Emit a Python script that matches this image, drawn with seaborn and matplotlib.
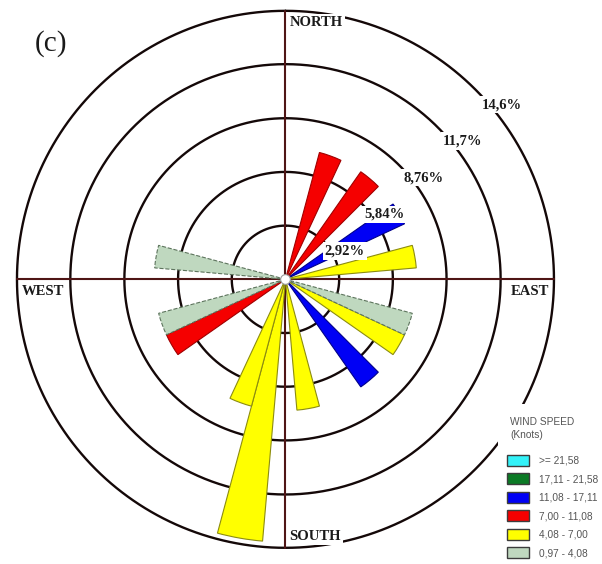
import numpy as np
import pandas as pd
import matplotlib
matplotlib.use("Agg")
import matplotlib.pyplot as plt
from matplotlib.patches import Patch, Rectangle
from matplotlib.transforms import offset_copy
import seaborn as sns

# Wind rose: direction sectors (degrees from north), frequency (%) and speed class
directions = [20, 40, 60, 80, 110, 120, 140, 170, 190, 200, 240, 250, 280]
frequency = [7.14, 7.14, 7.14, 7.14, 7.14, 7.14, 7.14, 7.14, 14.29, 7.14, 7.14, 7.14, 7.14]
speed_class = ["7,00 - 11,08", "7,00 - 11,08", "11,08 - 17,11", "4,08 - 7,00",
               "0,97 - 4,08", "4,08 - 7,00", "11,08 - 17,11", "4,08 - 7,00",
               "4,08 - 7,00", "4,08 - 7,00", "7,00 - 11,08", "0,97 - 4,08",
               "0,97 - 4,08"]

# Speed classes as listed in the legend (knots)
class_labels = [">= 21,58", "17,11 - 21,58", "11,08 - 17,11",
                "7,00 - 11,08", "4,08 - 7,00", "0,97 - 4,08"]
class_colors = ["#33f2f8", "#0b7a25", "#0000f5", "#f50000", "#ffff00", "#bfd8bf"]
class_edges = ["#3a3a3a", "#2a3a2a", "#00008a", "#a00000", "#8c8c10", "#5d745d"]

# Ring levels (%) and their labels
ring_levels = [2.92, 5.84, 8.76, 11.7, 14.6]
ring_labels = ["2,92%", "5,84%", "8,76%", "11,7%", "14,6%"]

df = pd.DataFrame({"direction": directions, "frequency": frequency, "speed": speed_class})

sns.set_theme(style="white")

W, H = 602, 564
fig = plt.figure(figsize=(W / 100, H / 100), dpi=100)
fig.patch.set_facecolor("white")
ax = fig.add_axes([0.0282, 0.0287, 0.892, 0.9521], projection="polar")
ax.set_theta_zero_location("N")
ax.set_theta_direction(-1)
ax.set_ylim(0, ring_levels[-1])
ax.set_facecolor("none")
ax.grid(False)
ax.set_xticks([])
ax.set_yticks([])
ax.spines["polar"].set_visible(False)

# concentric rings
theta_full = np.linspace(0, 2 * np.pi, 721)
for lev in ring_levels:
    ax.plot(theta_full, np.full_like(theta_full, lev), color="#140808", lw=1.7,
            zorder=1, clip_on=False)

# north-south / east-west axes
for ang in [0, 90, 180, 270]:
    ax.plot([np.deg2rad(ang)] * 2, [0, ring_levels[-1]], color="#4f1515", lw=1.5,
            zorder=2, clip_on=False)

# petals, one colour per speed class
width = np.deg2rad(10)
for lab, col, edge in zip(class_labels, class_colors, class_edges):
    sub = df[df["speed"] == lab]
    if sub.empty:
        continue
    ls = "--" if lab == "0,97 - 4,08" else "-"
    ax.bar(np.deg2rad(sub["direction"].to_numpy()), sub["frequency"].to_numpy(),
           width=width, bottom=0, color=col, edgecolor=edge, linewidth=0.8,
           linestyle=ls, zorder=3)

# hub
ax.plot([0], [0], "o", ms=7, mfc="white", mec="#9a9a9a", mew=0.8, zorder=6)

serif_bold = dict(family="Liberation Serif", weight="bold", color="#1a1a1a")
white_box = dict(boxstyle="square,pad=0.15", fc="white", ec="none")

# ring labels along the north-east diagonal
for lev, txt in zip(ring_levels, ring_labels):
    tr = offset_copy(ax.transData, fig=fig, x=0, y=-6, units="points")
    ax.text(np.deg2rad(47), lev, txt, transform=tr, ha="left", va="center",
            fontsize=10.5, bbox=white_box, zorder=7, **serif_bold)

# cardinal labels
rmax = ring_levels[-1]
card = [("NORTH", 0, 3, -8.6, "left"), ("SOUTH", 180, 3, 8.0, "left"),
        ("WEST", 270, 3.6, -8.6, "left"), ("EAST", 90, -3.6, -8.6, "right")]
for txt, ang, dx, dy, ha in card:
    tr = offset_copy(ax.transData, fig=fig, x=dx, y=dy, units="points")
    ax.text(np.deg2rad(ang), rmax, txt, transform=tr, ha=ha, va="center",
            fontsize=10.5, bbox=white_box, zorder=7, **serif_bold)

fig.text(35 / W, 1 - 44 / H, "(c)", family="Liberation Serif", fontsize=21,
         color="#1a1a1a", ha="left", va="center")

# white panel holding the speed legend
fig.patches.append(Rectangle((498 / W, 0), 1 - 498 / W, 1 - 404 / H,
                             transform=fig.transFigure, fc="white", ec="none",
                             zorder=1))

legend_grey = "#555555"
fig.text(510 / W, 1 - 422 / H, "WIND SPEED", family="Liberation Sans", fontsize=7.3,
         color=legend_grey, ha="left", va="center", zorder=2)
fig.text(510 / W, 1 - 435 / H, "(Knots)", family="Liberation Sans", fontsize=7.3,
         color=legend_grey, ha="left", va="center", zorder=2)

handles = [Patch(facecolor=c, edgecolor="#3c3c3c", linewidth=1.0) for c in class_colors]
leg = fig.legend(handles, class_labels, loc="upper left",
                 bbox_to_anchor=(507 / W, 1 - 455 / H),
                 frameon=False, fontsize=7.3, handlelength=2.2, handleheight=1.25,
                 labelspacing=0.76, handletextpad=1.0, borderpad=0,
                 borderaxespad=0)
leg.set_zorder(2)
for t in leg.get_texts():
    t.set_color(legend_grey)
    t.set_family("Liberation Sans")

fig.savefig("out.png", dpi=100, facecolor="white")
